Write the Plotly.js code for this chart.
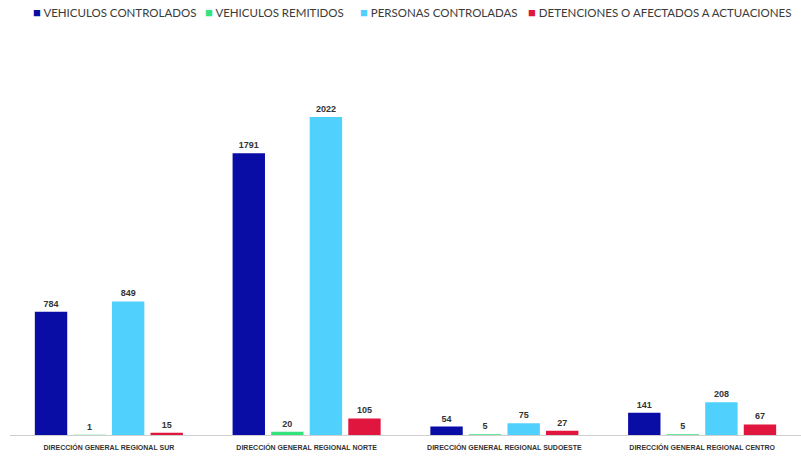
<!DOCTYPE html>
<html>
<head>
<meta charset="utf-8">
<script src="https://cdn.plot.ly/plotly-3.0.1.min.js"></script>
<style>html,body{margin:0;padding:0;background:#fff}#chart{width:801px;height:458px}</style>
</head>
<body>
<div id="chart"></div>
<script>
const categories = ["DIRECCIÓN GENERAL REGIONAL SUR", "DIRECCIÓN GENERAL REGIONAL NORTE", "DIRECCIÓN GENERAL REGIONAL SUDOESTE", "DIRECCIÓN GENERAL REGIONAL CENTRO"];
const seriesNames = ["VEHICULOS CONTROLADOS", "VEHICULOS REMITIDOS", "PERSONAS CONTROLADAS", "DETENCIONES O AFECTADOS A ACTUACIONES"];
const vehiculosControlados = [784, 1791, 54, 141];
const vehiculosRemitidos = [1, 20, 5, 5];
const personasControladas = [849, 2022, 75, 208];
const detenciones = [15, 105, 27, 67];
const colors = ["#0a0ca6", "#35e37c", "#50d0fd", "#e0163f"];

const allValues = [vehiculosControlados, vehiculosRemitidos, personasControladas, detenciones];
const traces = allValues.map((vals, i) => ({
  type: "bar",
  name: seriesNames[i],
  x: categories,
  y: vals,
  marker: {color: colors[i]},
  text: vals.map(String),
  textposition: "outside",
  textfont: {family: "Liberation Sans, Arial", size: 9, color: "#333", weight: "bold"},
  cliponaxis: false,
  hoverinfo: "none"
}));

const legendX = [31, 203, 358, 526];
const annotations = seriesNames.map((n, i) => ({
  xref: "paper", yref: "paper",
  x: (legendX[i] - 10) / 791, y: (435 - 12) / 395,
  xanchor: "left", yanchor: "middle",
  showarrow: false,
  text: '<span style="color:' + colors[i] + ';font-size:13px">■</span> ' + n,
  font: {family: "Lato, Liberation Sans, Arial", size: 11.5, color: "#3a3a3a"}
}));

const layout = {
  width: 801, height: 458,
  margin: {l: 10, r: 0, t: 40, b: 23},
  paper_bgcolor: "#fff", plot_bgcolor: "#fff",
  barmode: "group",
  bargap: 0.22,
  bargroupgap: 0.16,
  showlegend: false,
  xaxis: {
    type: "category",
    showline: true, linecolor: "#cfcfcf", linewidth: 1,
    ticks: "", showgrid: false,
    tickfont: {family: "Liberation Sans, Arial", size: 7, color: "#333", weight: "bold"},
    ticklabelstandoff: 6
  },
  yaxis: {
    range: [0, 2511],
    showgrid: false, zeroline: false, showticklabels: false, showline: false, ticks: ""
  },
  annotations: annotations
};

Plotly.newPlot("chart", traces, layout, {displayModeBar: false, staticPlot: true});
</script>
</body>
</html>
